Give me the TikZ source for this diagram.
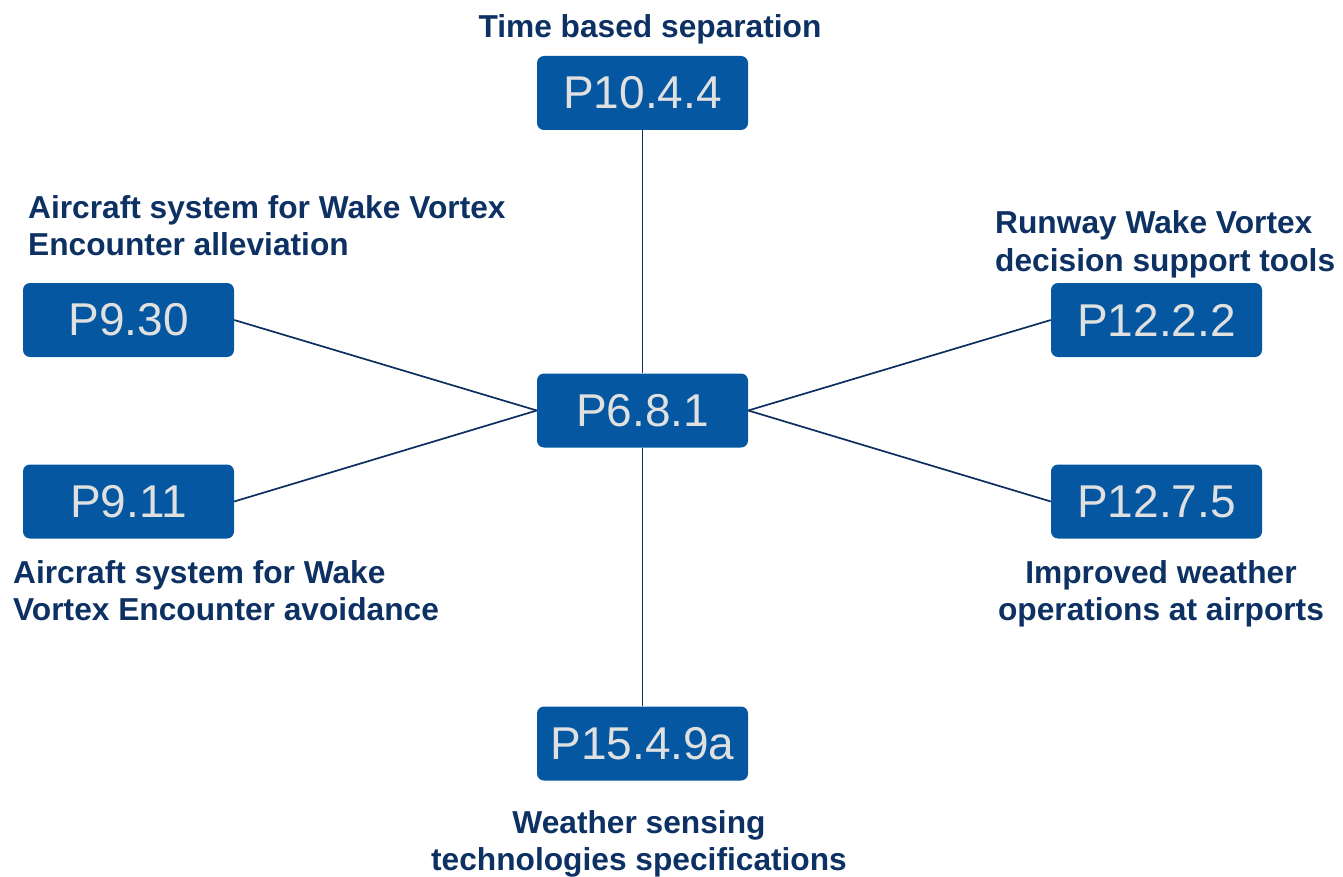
\documentclass[tikz,border=0pt]{standalone}
\usepackage{fontspec}
\setmainfont{Liberation Sans}
\definecolor{boxblue}{HTML}{0457A0}
\definecolor{boxtext}{HTML}{E0E0E0}
\definecolor{navy}{HTML}{0D3163}
\definecolor{linecol}{HTML}{0D2F5F}
\begin{document}
\begin{tikzpicture}[x=1pt,y=-1pt,
  pbox/.style={fill=boxblue, rounded corners=7pt, minimum width=211pt, minimum height=74pt, inner sep=0pt, text=boxtext, font=\fontsize{46}{50}\selectfont},
  lbl/.style={text=navy, font=\bfseries\fontsize{31.7}{37.5}\selectfont, inner sep=0pt},
  conn/.style={draw=linecol, line width=1.7pt}]
\useasboundingbox (0,0) rectangle (1343,877);
\node[pbox] (c) at (642.5,410.5) {P6.8.1};
\node[pbox] (t) at (642.5,93) {P10.4.4};
\node[pbox] (a) at (128.5,320) {P9.30};
\node[pbox] (b) at (128.5,501.5) {P9.11};
\node[pbox] (r) at (1156.5,320) {P12.2.2};
\node[pbox] (s) at (1156.5,501.5) {P12.7.5};
\node[pbox] (w) at (642.5,743.5) {P15.4.9a};
\draw[conn] (t.south) -- (c.north);
\draw[conn] (w.north) -- (c.south);
\draw[conn] (a.east) -- (c.west);
\draw[conn] (b.east) -- (c.west);
\draw[conn] (r.west) -- (c.east);
\draw[conn] (s.west) -- (c.east);
\node[lbl, anchor=base] (lt) at (650,37.5) {Time based separation};
\node[lbl, anchor=base west, align=left] (la) at (28,256) {Aircraft system for Wake Vortex\\Encounter alleviation};
\node[lbl, anchor=base west, align=left] (lr) at (995,271.5) {Runway Wake Vortex\\decision support tools};
\node[lbl, anchor=base west, align=left] (lb) at (13,620.5) {Aircraft system for Wake\\Vortex Encounter avoidance};
\node[lbl, anchor=base, align=center] (ls) at (1161,620.5) {Improved weather\\operations at airports};
\node[lbl, anchor=base, align=center] (lw) at (639,870.5) {Weather sensing\\technologies specifications};
\end{tikzpicture}
\end{document}
